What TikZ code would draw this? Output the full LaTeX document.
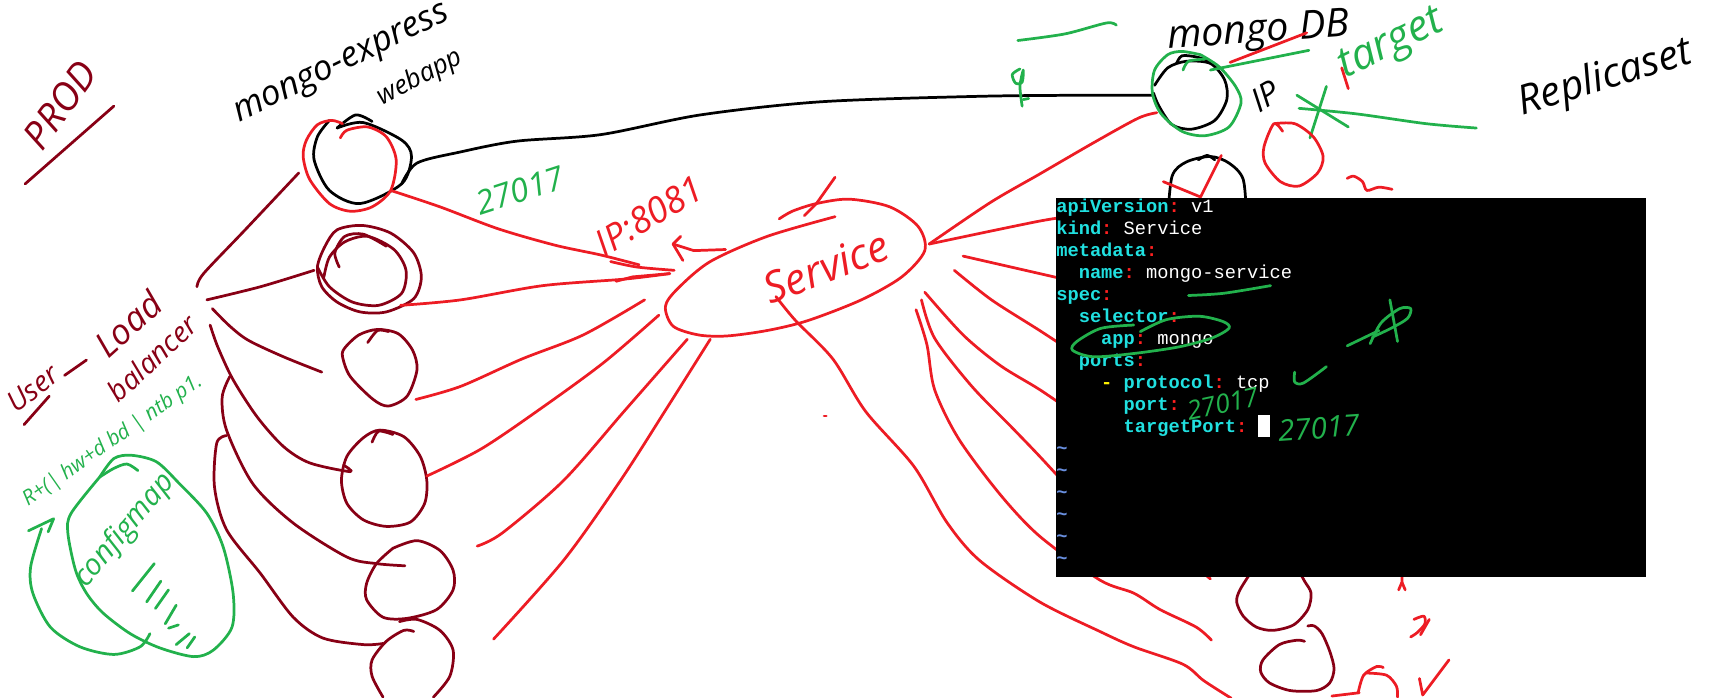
\documentclass[tikz,border=0pt]{standalone}
\usepackage{fontspec}
\setmainfont{Open Sans}
\setmonofont{Liberation Mono}
\usepackage{tikz}
\definecolor{rd}{HTML}{ED1C24}
\definecolor{mr}{HTML}{880015}
\definecolor{gn}{HTML}{22B14C}
\definecolor{kc}{HTML}{20E0E0}
\definecolor{tc}{HTML}{FF2020}
\definecolor{tl}{HTML}{6A90E0}
\newcommand{\ky}[1]{\textcolor{kc}{\bfseries #1}\textcolor{tc}{\bfseries :}}
\newcommand{\vl}[1]{\textcolor{white}{#1}}
\begin{document}
\begin{tikzpicture}[x=1pt, y=-1pt,
    st/.style={line width=2.5pt, line cap=round, line join=round},
    rs/.style={st, draw=rd},
    ms/.style={st, draw=mr},
    gs/.style={st, draw=gn},
    ks/.style={st, draw=black},
    hw/.style={inner sep=0pt, font=\fontsize{#1}{#1}\selectfont\itshape},
    rt/.style={hw=#1, text=rd},
    mt/.style={hw=#1, text=mr},
    gt/.style={hw=#1, text=gn},
    kt/.style={hw=#1, text=black}
]
    \useasboundingbox (0,0) rectangle (1568,637);

    % labels
    \node[mt=35, rotate=54] (prod) at (55,96) {PROD};
    \node[kt=32, rotate=26] (express) at (313,60) {mongo-express};
    \node[kt=24, rotate=28] (webapp) at (384,71) {webapp};
    \node[kt=36, rotate=4] (mongodb) at (1150,30) {mongo DB};
    \node[kt=30, rotate=30] (ip) at (1156,88) {IP};
    \node[kt=37, rotate=17] (replica) at (1467,72) {Replicaset};
    \node[rt=33, rotate=31] (ipport) at (593,197) {IP:8081};
    \node[rt=39, rotate=21] (service) at (755,244) {Service};
    \node[gt=30, rotate=18] (portweb) at (475,174) {27017};
    \node[gt=39, rotate=26] (target) at (1272,42) {target};
    \node[mt=26, rotate=38] (user) at (30,355) {User};
    \node[mt=32, rotate=42] (load) at (117,296) {Load};
    \node[mt=26, rotate=43] (balancer) at (139,327) {balancer};
    \node[gt=19, rotate=35] (rtl) at (103,403) {R+(| hw+d bd | ntb p1.};
    \node[gt=27, rotate=50] (cfg) at (114,485) {configmap};

    % prod, user
    \draw[ms] (23,168) -- (104,97);
    \draw[ms] (22,388) -- (45,362);
    \draw[ms] (59,343) -- (79,329);

    % webapp pod
    \draw[ks] plot[smooth] coordinates {(308,117) (325,105) (340,111)};
    \draw[ks] plot[smooth] coordinates {(308,117) (332,112) (367,128) (376,143) (367,168) (329,186) (301,174) (287,146) (290,125) (301,110)};
    \draw[rs] plot[smooth] coordinates {(311,126) (317,119) (336,116) (353,125) (362,146) (357,174) (340,189) (320,193) (301,186) (283,164) (277,143) (280,128) (290,114) (303,110) (313,113)};
    \draw[ks] plot[smooth] coordinates {(367,168) (381,149) (420,139) (472,129) (549,123) (640,105) (750,93) (895,88) (998,87) (1054,87)};

    % left pods
    \draw[ms] plot[smooth cycle] coordinates {(290,244) (297,225) (308,210) (331,206) (357,213) (378,231) (385,253) (378,273) (353,285) (329,285) (308,276) (294,262)};
    \draw[ms] plot[smooth] coordinates {(296,253) (301,235) (315,221) (336,216) (360,228) (371,247) (367,268) (346,279) (322,276) (301,262) (290,244)};
    \draw[ms] plot[smooth] coordinates {(310,244) (306,231) (315,216) (332,214) (353,225)};
    \draw[ms] plot[smooth cycle] coordinates {(315,318) (313,326) (320,344) (341,365) (355,371) (372,362) (381,338) (377,320) (364,305) (345,301) (328,306)};
    \draw[ms] plot[smooth] coordinates {(336,313) (345,302) (355,303)};
    \draw[ms] plot[smooth cycle] coordinates {(347,393) (369,399) (384,417) (390,439) (388,460) (375,477) (353,481) (332,475) (317,460) (312,439) (317,417) (332,400)};
    \draw[ms] plot[smooth] coordinates {(340,404) (346,394) (359,397)};
    \draw[ms] plot[smooth] coordinates {(359,501) (381,494) (402,503) (414,521) (414,539) (399,557) (372,565) (350,564) (335,548) (335,533) (344,515) (359,501)};
    \draw[ms] plot[smooth] coordinates {(378,577) (369,576) (353,586) (340,603) (340,618) (350,637)};
    \draw[ms] plot[smooth] coordinates {(365,568) (381,566) (402,576) (414,594) (411,618) (396,637)};

    % load balancer
    \draw[ms] plot[smooth] coordinates {(273,158) (224,210) (186,250) (180,262)};
    \draw[ms] plot[smooth] coordinates {(189,274) (238,262) (287,247)};
    \draw[ms] plot[smooth] coordinates {(194,282) (210,298) (227,311) (259,326) (294,340)};
    \draw[ms] plot[smooth] coordinates {(192,297) (199,317) (213,347) (235,381) (259,408) (283,423) (320,431) (314,425)};
    \draw[ms] plot[smooth] coordinates {(210,344) (203,363) (207,393) (231,442) (268,478) (317,509) (344,515) (370,517)};
    \draw[ms] plot[smooth] coordinates {(207,398) (198,405) (196,445) (207,484) (238,524) (268,564) (295,583) (332,589) (350,588)};

    % service
    \draw[rs] plot[smooth] coordinates {(763,198) (701,216) (649,239) (619,264) (608,280) (615,298) (638,306) (664,307) (701,302) (738,293) (787,274) (824,253) (845,229) (839,207) (813,189) (776,182) (746,186) (724,193) (712,200)};
    \draw[rs] (763,162) -- (746,186) -- (735,197);
    \draw[rs] (663,228) -- (634,229) -- (615,223);
    \draw[rs] (622,216) -- (615,223) -- (624,238);
    \draw[rs] plot[smooth] coordinates {(357,174) (402,189) (455,209) (507,224) (549,233) (584,242)};
    \draw[rs] plot[smooth] coordinates {(558,239) (582,244) (616,247)};
    \draw[rs] plot[smooth] coordinates {(366,279) (421,274) (496,261) (571,255) (612,250)};
    \draw[rs] (612,250) -- (578,253) -- (563,257);
    \draw[rs] plot[smooth] coordinates {(380,365) (421,353) (477,328) (533,306) (589,274)};
    \draw[rs] plot[smooth] coordinates {(390,435) (440,410) (496,372) (552,331) (602,288)};
    \draw[rs] plot[smooth] coordinates {(436,499) (459,487) (515,439) (571,375) (628,310)};
    \draw[rs] plot[smooth] coordinates {(451,584) (515,512) (567,439) (608,375) (649,310)};
    \draw[rs] (753,380) -- (755,380);

    % service to db
    \draw[rs] plot[smooth] coordinates {(849,223) (905,185) (950,159) (1000,130) (1040,108) (1057,103)};
    \draw[rs] plot[smooth] coordinates {(849,223) (950,202) (985,197)};
    \draw[rs] plot[smooth] coordinates {(880,234) (950,250) (985,258)};
    \draw[rs] plot[smooth] coordinates {(872,247) (906,274) (950,302) (985,325)};
    \draw[rs] plot[smooth] coordinates {(845,267) (880,306) (914,334) (950,356) (985,380)};
    \draw[rs] plot[smooth] coordinates {(842,274) (854,309) (888,353) (925,391) (950,417) (985,455)};
    \draw[rs] plot[smooth] coordinates {(837,283) (847,315) (854,356) (876,401) (914,452) (950,490) (1005,530) (1036,542) (1060,557) (1093,573) (1107,585)};
    \draw[rs] plot[smooth] coordinates {(709,271) (727,293) (761,328) (791,376) (835,426) (865,477) (895,512) (950,550) (1005,577) (1036,591) (1081,607) (1100,622) (1125,638)};

    % db pods
    \draw[ks] plot[smooth] coordinates {(1055,78) (1067,62) (1084,56) (1106,58) (1119,73) (1121,91) (1110,110) (1089,118) (1071,114) (1059,97) (1054,85)};
    \draw[ks] plot[smooth] coordinates {(1075,58) (1080,51) (1093,52) (1106,56)};
    \draw[gs] plot[smooth] coordinates {(1097,50) (1114,61) (1129,79) (1134,94) (1123,116) (1101,124) (1080,120) (1061,104) (1053,85) (1055,64) (1067,50) (1080,47) (1097,50)};
    \draw[gs] plot[smooth] coordinates {(1081,64) (1086,56) (1101,54)};
    \draw[gs] (1106,64) -- (1196,46);
    \draw[rs] (1124,57) -- (1194,30);
    \draw[rs] (1226,62) -- (1232,81);
    \draw[gs] (1185,87) -- (1232,116);
    \draw[gs] (1212,79) -- (1197,126);
    \draw[gs] plot[smooth] coordinates {(1187,99) (1239,104) (1303,113) (1349,117)};
    \draw[gs] plot[smooth] coordinates {(932,63) (925,68) (928,76) (934,75) (935,64) (932,79) (934,97)};
    \draw[gs] (935,91) -- (940,90);
    \draw[gs] plot[smooth] coordinates {(930,37) (973,31) (1011,21) (1020,23)};
    \draw[rs] plot[smooth] coordinates {(1172,120) (1164,113) (1155,134) (1156,149) (1170,166) (1187,170) (1204,158) (1209,143) (1200,125) (1183,113) (1164,113)};
    \draw[rs] plot[smooth] coordinates {(1231,163) (1237,161) (1245,166) (1249,174) (1260,171) (1272,173)};
    \draw[ks] plot[smooth] coordinates {(1067,200) (1071,161) (1084,148) (1106,143) (1123,149) (1136,164) (1139,200)};
    \draw[ks] plot[smooth] coordinates {(1095,146) (1103,142) (1110,146)};
    \draw[rs] (1116,142) -- (1097,180) -- (1063,166);

    % lower db pods
    \draw[ms] plot[smooth] coordinates {(1145,520) (1133,539) (1130,550) (1136,563) (1148,573) (1163,576) (1182,571) (1195,557) (1198,542) (1192,531) (1186,520)};
    \draw[ms] plot[smooth] coordinates {(1192,586) (1185,585) (1169,589) (1154,603) (1152,614) (1160,624) (1179,631) (1203,631) (1215,624) (1219,611) (1215,595) (1208,579) (1201,572) (1195,572)};
    \draw[rs] (1100,524) -- (1106,529);
    \draw[rs] (1281,520) -- (1281,532) -- (1278,539);
    \draw[rs] (1281,532) -- (1284,539);
    \draw[rs] plot[smooth] coordinates {(1292,566) (1301,563) (1302,570) (1295,578) (1289,582)};
    \draw[rs] (1306,566) -- (1298,580);
    \draw[rs] (1217,636) -- (1242,633);
    \draw[rs] plot[smooth] coordinates {(1241,633) (1246,617) (1258,609) (1264,610)};
    \draw[rs] plot[smooth] coordinates {(1249,615) (1267,617) (1276,627) (1277,637)};
    \draw[rs] (1297,620) -- (1300,635) -- (1324,603);

    % configmap
    \draw[gs] plot[smooth] coordinates {(126,430) (116,424) (104,428) (91,436)};
    \draw[gs] plot[smooth] coordinates {(91,436) (104,419) (120,416) (143,422) (164,442) (189,469) (204,500) (213,542) (212,573) (195,594) (177,600) (146,592) (119,579) (94,560) (79,542) (69,521) (62,487) (65,469) (91,436)};
    \draw[gs] plot[smooth] coordinates {(137,579) (128,591) (104,598) (73,591) (46,573) (30,542) (28,518) (38,483)};
    \draw[gs] (26,485) -- (49,474) -- (44,486);
    \draw[gs] (121,540) -- (141,515);
    \draw[gs] (134,550) -- (147,531);
    \draw[gs] (142,556) -- (154,539);
    \draw[gs] (151,570) -- (161,553);
    \draw[gs] (154,574) -- (163,571);
    \draw[gs] (161,589) -- (173,579);
    \draw[gs] (171,592) -- (178,582);

    % terminal
    \fill[black] (965,181) rectangle (1504,527);
    \node[anchor=north west, inner sep=0pt, align=left, font=\fontsize{17.1}{20.1}\selectfont\ttfamily] (vim) at (965,181.5) {%
        \ky{apiVersion} \vl{v1}\\
        \ky{kind} \vl{Service}\\
        \ky{metadata}\\
        \phantom{xx}\ky{name} \vl{mongo-service}\\
        \ky{spec}\\
        \phantom{xx}\ky{selector}\\
        \phantom{xxxx}\ky{app} \vl{mongo}\\
        \phantom{xx}\ky{ports}\\
        \phantom{xxxx}\textcolor{yellow}{\bfseries -} \ky{protocol} \vl{tcp}\\
        \phantom{xxxxxx}\ky{port}\\
        \phantom{xxxxxx}\ky{targetPort} \textcolor{white}{\rule[-4.5pt]{10.26pt}{20.1pt}}\\
        \textcolor{tl}{\bfseries\~{}}\\
        \textcolor{tl}{\bfseries\~{}}\\
        \textcolor{tl}{\bfseries\~{}}\\
        \textcolor{tl}{\bfseries\~{}}\\
        \textcolor{tl}{\bfseries\~{}}\\
        \textcolor{tl}{\bfseries\~{}}};

    % green notes on terminal
    \draw[gs] plot[smooth] coordinates {(1086,270) (1118,268) (1161,261)};
    \draw[gs] plot[smooth] coordinates {(1036,297) (1006,300) (984,312) (980,320) (999,326) (1036,323) (1077,317) (1107,309) (1123,300) (1118,294) (1096,289) (1066,292) (1042,303)};
    \draw[gs] (1231,316) -- (1260,302);
    \draw[gs] plot[smooth] coordinates {(1252,314) (1262,295) (1279,282) (1289,282) (1286,291) (1271,300) (1254,308)};
    \draw[gs] (1270,274) -- (1277,312);
    \draw[gs] plot[smooth] coordinates {(1183,340) (1183,349) (1191,350) (1212,335)};
    \node[gt=24, rotate=12] (port) at (1117,369) {27017};
    \node[gt=27, rotate=4] (tport) at (1205,391) {27017};
\end{tikzpicture}
\end{document}
